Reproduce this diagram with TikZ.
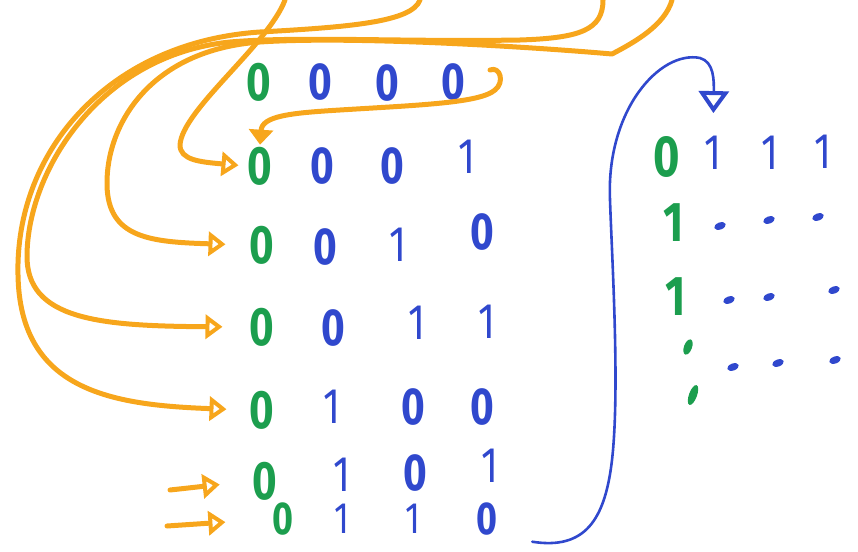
\documentclass[tikz,border=0pt]{standalone}
\usepackage{fontspec}
\setmainfont{Fira Sans}
\newfontfamily\digf[FakeStretch=0.78]{Fira Sans}
\usetikzlibrary{arrows.meta,shapes.geometric}
\definecolor{morange}{RGB}{247,166,28}
\definecolor{mgreen}{RGB}{28,158,78}
\definecolor{mblue}{RGB}{48,72,205}
\begin{document}
\begin{tikzpicture}[x=1pt,y=-1pt,
  dig/.style={inner sep=1pt},
  gz/.style={dig,text=mgreen,font=\digf\fontsize{54}{54}\selectfont\bfseries},
  bz/.style={dig,text=mblue,font=\digf\fontsize{52}{52}\selectfont\bfseries},
  bo/.style={dig,text=mblue,font=\digf\fontsize{50}{50}\selectfont},
  go/.style={dig,text=mgreen,font=\digf\fontsize{56}{56}\selectfont\bfseries},
  lastrow/.style={font=\digf\fontsize{46}{46}\selectfont\bfseries},
  bdot/.style={ellipse,fill=mblue,inner sep=0pt,minimum width=12pt,minimum height=7pt,rotate=20},
  gmark/.style={ellipse,fill=mgreen,inner sep=0pt,minimum width=8pt,minimum height=16pt,rotate=-20},
  oline/.style={draw=morange,line width=5pt,line cap=round,line join=round},
  oarr/.style={oline,-{Triangle[open,length=17pt,width=24pt,line width=4pt]}},
  ofill/.style={oline,-{Triangle[length=15pt,width=24pt]}},
  barr/.style={draw=mblue,line width=2.6pt,line cap=round,-{Triangle[open,length=22pt,width=30pt,line width=4pt]}}
]
\useasboundingbox (0,0) rectangle (858,551);

% left grid
\node[gz] (r11) at (259,82) {0};
\node[bz] (r12) at (320,82) {0};
\node[bz] (r13) at (387,83) {0};
\node[bz] (r14) at (453,82) {0};

\node[gz] (r21) at (260,166) {0};
\node[bz] (r22) at (322,166) {0};
\node[bz] (r23) at (392,166) {0};
\node[bo] (r24) at (467,157) {1};

\node[gz] (r31) at (262,245) {0};
\node[bz] (r32) at (325,247) {0};
\node[bo] (r33) at (398,245) {1};
\node[bz] (r34) at (482,232) {0};

\node[gz] (r41) at (262,327) {0};
\node[bz] (r42) at (333,328) {0};
\node[bo] (r43) at (417,323) {1};
\node[bo] (r44) at (487,322) {1};

\node[gz] (r51) at (262,410) {0};
\node[bo] (r52) at (332,407) {1};
\node[bz] (r53) at (413,407) {0};
\node[bz] (r54) at (482,407) {0};

\node[gz] (r61) at (265,481) {0};
\node[bo] (r62) at (342,475) {1};
\node[bz] (r63) at (415,473) {0};
\node[bo] (r64) at (490,466) {1};

\node[gz,lastrow] (r71) at (283,519) {0};
\node[bo,font=\digf\fontsize{44}{44}\selectfont] (r72) at (342,519) {1};
\node[bo,font=\digf\fontsize{44}{44}\selectfont] (r73) at (413,519) {1};
\node[bz,lastrow] (r74) at (487,519) {0};

% right matrix
\node[gz,font=\digf\fontsize{58}{58}\selectfont\bfseries] (m11) at (667,157) {0};
\node[bo] (m12) at (713,153) {1};
\node[bo] (m13) at (770,153) {1};
\node[bo] (m14) at (823,152) {1};
\node[go] (m21) at (674,223) {1};
\node[bdot] (d22) at (720,226) {};
\node[bdot] (d23) at (769,220) {};
\node[bdot] (d24) at (818,217) {};
\node[go] (m31) at (676,297) {1};
\node[bdot] (d32) at (729,300) {};
\node[bdot] (d33) at (769,297) {};
\node[bdot] (d34) at (834,290) {};
\node[gmark] (v1) at (688,347) {};
\node[bdot] (d42) at (733,367) {};
\node[bdot] (d43) at (778,363) {};
\node[bdot] (d44) at (835,360) {};
\node[gmark,minimum height=21pt] (v2) at (693,395) {};

% free ends
\coordinate (tA) at (285,0);
\coordinate (tB) at (420,0);
\coordinate (tC) at (603,0);
\coordinate (tD) at (672,0);
\coordinate (tE) at (490,70);
\coordinate (s6) at (170,490);
\coordinate (s7) at (167,526);

% orange arrows
\draw[oarr,shorten >=8pt] (tA) .. controls (268,45) and (182,110) .. (180,145)
  .. controls (180,160) and (200,162) .. (r21.west);
\draw[oarr,shorten >=22pt] (tB) .. controls (412,22) and (350,27) .. (260,32)
  .. controls (110,42) and (15,150) .. (18,275)
  .. controls (20,390) and (110,405) .. (r51.west);
\draw[oarr,shorten >=26pt] (tC) .. controls (603,30) and (580,38) .. (520,40)
  .. controls (400,42) and (300,36) .. (230,42)
  .. controls (100,55) and (28,170) .. (27,255)
  .. controls (26,320) and (100,326) .. (r41.west);
\draw[oarr,shorten >=23pt] (tD) .. controls (665,25) and (635,42) .. (612,54)
  .. controls (520,46) and (350,36) .. (260,42)
  .. controls (150,50) and (106,125) .. (107,185)
  .. controls (108,238) and (150,242) .. (r31.west);
\draw[ofill,shorten >=1pt] (tE) .. controls (500,66) and (505,82) .. (495,90)
  .. controls (480,103) and (420,105) .. (340,110)
  .. controls (290,113) and (262,116) .. (r21.north);
\draw[oarr,shorten >=32pt] (s6) -- (r61.west);
\draw[oarr,shorten >=46pt] (s7) -- (r71.west);

% blue arrow
\draw[barr,shorten <=34pt,shorten >=22pt] (r74.south east) .. controls (585,550) and (605,520) .. (612,460)
  .. controls (620,390) and (612,260) .. (610,200)
  .. controls (606,110) and (660,50) .. (700,58)
  .. controls (714,62) and (714,80) .. (m12.north);
\end{tikzpicture}
\end{document}
